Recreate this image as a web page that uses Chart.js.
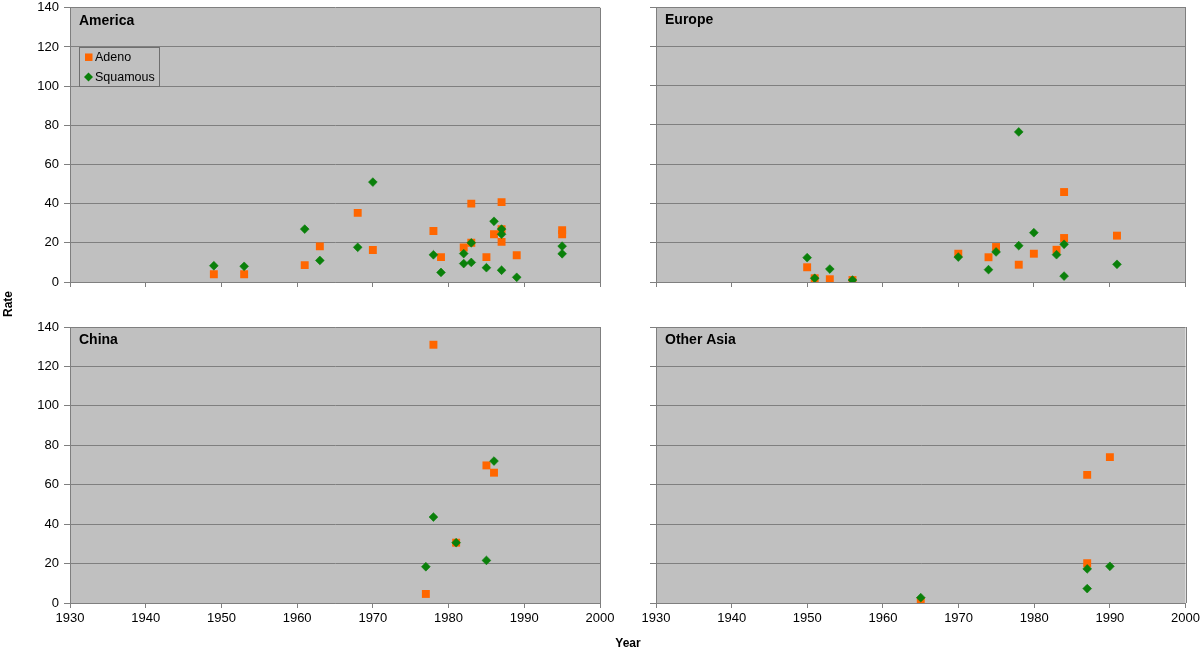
<!DOCTYPE html>
<html>
<head>
<meta charset="utf-8">
<script src="https://cdn.jsdelivr.net/npm/chart.js@4.4.1/dist/chart.umd.min.js"></script>
<style>
html,body{margin:0;padding:0;background:#ffffff;width:1200px;height:651px;overflow:hidden;font-family:"Liberation Sans",Arial,Helvetica,sans-serif;}
.panel{position:absolute;}
#rate{position:absolute;left:-12px;top:297px;width:40px;text-align:center;font-weight:bold;font-size:12px;transform:rotate(-90deg);color:#000;}
#year{position:absolute;left:600px;top:636px;width:56px;text-align:center;font-weight:bold;font-size:12px;color:#000;}
</style>
</head>
<body>
<div class="panel" style="left:0;top:-5px;"><canvas id="cAmerica" width="620" height="305"></canvas></div>
<div class="panel" style="left:620px;top:0;"><canvas id="cEurope" width="580" height="300"></canvas></div>
<div class="panel" style="left:0;top:300px;"><canvas id="cChina" width="620" height="351"></canvas></div>
<div class="panel" style="left:620px;top:300px;"><canvas id="cAsia" width="583" height="351"></canvas></div>
<div id="rate">Rate</div>
<div id="year">Year</div>
<script>
// ---- Data (year, rate) ----
const seriesNames = ['Adeno', 'Squamous'];
const panelTitles = ['America', 'Europe', 'China', 'Other Asia'];
const xTickRange = [1930, 2000, 10];
const yTickRange = [0, 140, 20];

const americaAdeno = [[1949,4],[1953,4],[1961,8.6],[1963,18.2],[1968,35.3],[1970,16.3],[1978,26],[1979,12.7],[1982,17.6],[1983,20],[1983,40],[1985,12.7],[1986,24.4],[1987,40.8],[1987,27],[1987,20.5],[1989,13.7],[1995,26.5],[1995,24.4]];
const americaSquamous = [[1949,8.3],[1953,8],[1961,27],[1963,11],[1968,17.7],[1970,51],[1978,13.9],[1979,4.9],[1982,14.5],[1982,9.4],[1983,20],[1983,10],[1985,7.3],[1986,31],[1987,27],[1987,24.4],[1987,6],[1989,2.4],[1995,18.3],[1995,14.4]];

const europeAdeno = [[1950,7.5],[1951,1.9],[1953,1.4],[1956,1.0],[1970,14.4],[1974,12.6],[1975,17.8],[1978,8.8],[1980,14.4],[1983,16.4],[1984,45.8],[1984,22.4],[1991,23.6]];
const europeSquamous = [[1950,12.4],[1951,1.9],[1953,6.6],[1956,1.0],[1970,12.7],[1974,6.3],[1975,15.3],[1978,76.4],[1978,18.5],[1980,25.1],[1983,13.9],[1984,19.2],[1984,3],[1991,9]];

const chinaAdeno = [[1977,4.6],[1978,131],[1981,30.6],[1985,69.8],[1986,66.1]];
const chinaSquamous = [[1977,18.4],[1978,43.6],[1981,30.6],[1985,21.6],[1986,72]];

const otherAsiaAdeno = [[1965,1],[1987,65],[1987,20.2],[1990,74]];
const otherAsiaSquamous = [[1965,2.7],[1987,17.3],[1987,7.3],[1990,18.6]];

// ---- Styling ----
const FONT = '"Liberation Sans", Arial, Helvetica, sans-serif';
const ORANGE = '#ff6600';
const GREEN = '#0a800a';
const PLOT_BG = '#c0c0c0';
const GRID = '#7f7f7f';

Chart.defaults.font.family = FONT;
Chart.defaults.color = '#000';

function toPts(arr){ return arr.map(p => ({x: p[0], y: p[1]})); }

const panelPlugin = {
  id: 'panelDeco',
  beforeDraw(chart, args, opts){
    const a = chart.chartArea, ctx = chart.ctx;
    ctx.save();
    ctx.fillStyle = PLOT_BG;
    ctx.fillRect(a.left, a.top, a.right - a.left, a.bottom - a.top);
    ctx.restore();
  },
  beforeDatasetsDraw(chart){
    const a = chart.chartArea, ctx = chart.ctx;
    ctx.save();
    ctx.strokeStyle = GRID;
    ctx.lineWidth = 1;
    ctx.beginPath();
    ctx.moveTo(Math.round(a.right) + 0.5, a.top);
    ctx.lineTo(Math.round(a.right) + 0.5, a.bottom);
    ctx.stroke();
    ctx.restore();
  },
  afterDraw(chart, args, opts){
    const a = chart.chartArea, ctx = chart.ctx;
    ctx.save();
    ctx.fillStyle = '#000';
    ctx.font = 'bold 14px ' + FONT;
    ctx.textBaseline = 'middle';
    ctx.textAlign = 'left';
    ctx.fillText(opts.title, a.left + 9, a.top + 13);
    if (opts.legend) {
      const x0 = a.left + 9, y0 = chart.scales.y.getPixelForValue(120), y1 = chart.scales.y.getPixelForValue(100);
      ctx.strokeStyle = '#6f6f6f';
      ctx.lineWidth = 1;
      ctx.strokeRect(Math.round(x0) + 0.5, Math.round(y0) + 0.5, 80, Math.round(y1 - y0));
      const rowA = y0 + 10, rowB = y0 + 30;
      ctx.fillStyle = ORANGE;
      ctx.beginPath();
      ctx.rect(x0 + 6, rowA - 3.5, 7.5, 7.5);
      ctx.fill();
      ctx.fillStyle = GREEN;
      ctx.beginPath();
      ctx.moveTo(x0 + 9.5, rowB - 4.5);
      ctx.lineTo(x0 + 14, rowB);
      ctx.lineTo(x0 + 9.5, rowB + 4.5);
      ctx.lineTo(x0 + 5, rowB);
      ctx.closePath();
      ctx.fill();
      ctx.fillStyle = '#000';
      ctx.font = '12.5px ' + FONT;
      ctx.fillText(seriesNames[0], x0 + 16, rowA + 0.5);
      ctx.fillText(seriesNames[1], x0 + 16, rowB + 0.5);
    }
    ctx.restore();
  }
};

function makePanel(canvasId, title, adeno, squamous, cfg){
  const ctx = document.getElementById(canvasId);
  return new Chart(ctx, {
    type: 'scatter',
    data: {
      datasets: [
        { label: seriesNames[0], data: toPts(adeno), pointStyle: 'rect', pointRadius: 5.6, pointHoverRadius: 5.6,
          backgroundColor: ORANGE, borderColor: ORANGE, pointBorderWidth: 0, order: 2 },
        { label: seriesNames[1], data: toPts(squamous), pointStyle: 'rectRot', pointRadius: 4.4, pointHoverRadius: 4.4,
          backgroundColor: GREEN, borderColor: GREEN, pointBorderWidth: 0.6, order: 1 }
      ]
    },
    options: {
      responsive: false,
      animation: false,
      devicePixelRatio: 1,
      layout: { padding: { left: 0, top: cfg.padTop, right: cfg.padRight, bottom: 0 } },
      plugins: {
        legend: { display: false },
        tooltip: { enabled: false },
        panelDeco: { title: title, legend: !!cfg.legend }
      },
      scales: {
        x: {
          type: 'linear',
          min: xTickRange[0], max: xTickRange[1],
          ticks: { stepSize: xTickRange[2], display: cfg.xLabels, font: { size: 13 }, color: '#000', padding: 3, maxRotation: 0, autoSkip: false,
                   callback: v => String(v) },
          grid: { drawOnChartArea: false, drawTicks: true, tickLength: 5, color: GRID },
          border: { display: true, color: GRID, width: 1 },
          afterFit(scale){ scale.height = cfg.xHeight; }
        },
        y: {
          type: 'linear',
          min: yTickRange[0], max: yTickRange[1],
          ticks: { stepSize: yTickRange[2], display: cfg.yLabels, font: { size: 13 }, color: '#000', padding: 5,
                   callback: v => String(v) },
          grid: { drawOnChartArea: true, drawTicks: true, tickLength: 6, color: GRID, lineWidth: 1 },
          border: { display: true, color: GRID, width: 1 },
          afterFit(scale){ scale.width = cfg.yWidth; }
        }
      }
    },
    plugins: [panelPlugin]
  });
}

makePanel('cAmerica', panelTitles[0], americaAdeno, americaSquamous,
  { padTop: 7, padRight: 20, xHeight: 18, yWidth: 70, xLabels: false, yLabels: true, legend: true });
makePanel('cEurope', panelTitles[1], europeAdeno, europeSquamous,
  { padTop: 7, padRight: 15, xHeight: 18, yWidth: 36, xLabels: false, yLabels: false });
makePanel('cChina', panelTitles[2], chinaAdeno, chinaSquamous,
  { padTop: 27, padRight: 20, xHeight: 48, yWidth: 70, xLabels: true, yLabels: true });
makePanel('cAsia', panelTitles[3], otherAsiaAdeno, otherAsiaSquamous,
  { padTop: 27, padRight: 12, xHeight: 48, yWidth: 36, xLabels: true, yLabels: false });
</script>
</body>
</html>
